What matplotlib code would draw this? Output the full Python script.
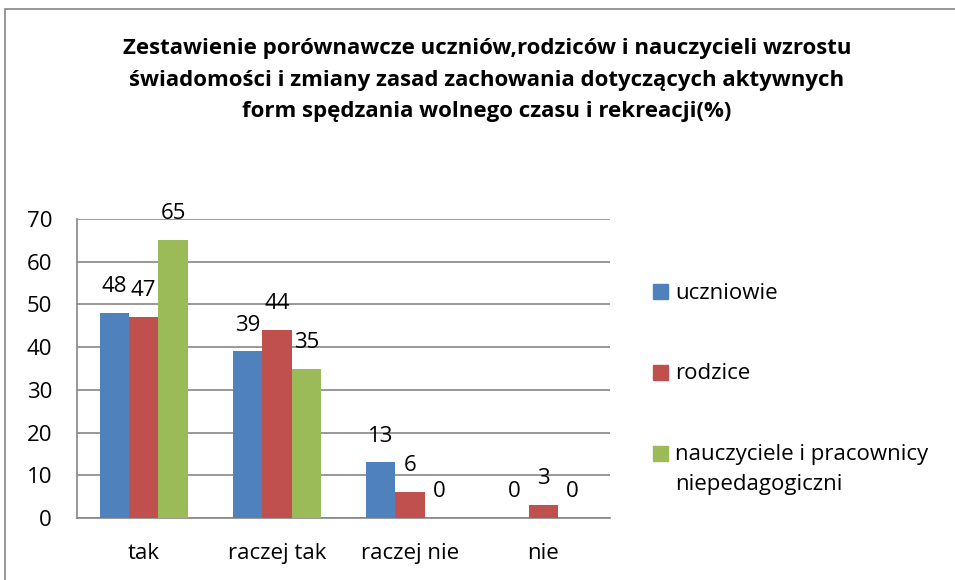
import numpy as np
import matplotlib
matplotlib.use('Agg')
import matplotlib.pyplot as plt
from matplotlib.patches import Rectangle

categories = ['tak', 'raczej tak', 'raczej nie', 'nie']
series_names = ['uczniowie', 'rodzice', 'nauczyciele i pracownicy\nniepedagogiczni']
uczniowie = [48, 39, 13, 0]
rodzice = [47, 44, 6, 3]
nauczyciele = [65, 35, 0, 0]
yticks = [0, 10, 20, 30, 40, 50, 60, 70]
title = ('Zestawienie porównawcze uczniów,rodziców i nauczycieli wzrostu\n'
         'świadomości i zmiany zasad zachowania dotyczących aktywnych\n'
         'form spędzania wolnego czasu i rekreacji(%)')

colors = ['#4F81BD', '#C0504D', '#9BBB59']
plt.rcParams['font.family'] = ['Open Sans', 'DejaVu Sans']
fs = 16

fig = plt.figure(figsize=(9.55, 5.8), dpi=100)
# chart border (Excel-like frame, running off the right/bottom edge)
fig.patches.append(Rectangle((5 / 955, -0.1), 1.2, 1 - 9 / 580 + 0.1,
                             transform=fig.transFigure, fill=False,
                             edgecolor='#868686', linewidth=1.2))

ax = fig.add_axes([77 / 955, 1 - 518 / 580, 533 / 955, 299 / 580])
x = np.arange(len(categories))
w = 0.22
for k, vals in enumerate([uczniowie, rodzice, nauczyciele]):
    pos = x + (k - 1) * w
    ax.bar(pos, vals, w, color=colors[k], label=series_names[k], zorder=3)
    for px, v in zip(pos, vals):
        ax.annotate(str(v), xy=(px, v), xytext=(0, 19), textcoords='offset points',
                    ha='center', va='center', fontsize=fs, color='black',
                    annotation_clip=False)

ax.set_xlim(-0.5, 3.5)
ax.set_ylim(0, 70)
ax.set_yticks(yticks)
ax.set_xticks(x)
ax.set_xticklabels(categories)
ax.tick_params(axis='y', length=0, pad=18, labelsize=fs)
ax.tick_params(axis='x', length=0, pad=18, labelsize=fs)
ax.yaxis.grid(True, color='#868686', linewidth=1.2, zorder=0)
for s in ['top', 'right']:
    ax.spines[s].set_visible(False)
for s in ['left', 'bottom']:
    ax.spines[s].set_color('#868686')
    ax.spines[s].set_linewidth(1.2)

fig.text(487 / 955, 1 - 80 / 580, title, ha='center', va='center',
         fontsize=16, fontweight='bold', linespacing=1.65)

# legend, drawn by hand so the square lines up with the first text line
leg_y = [292, 372, 453]
for name, c, yy in zip(series_names, colors, leg_y):
    fig.patches.append(Rectangle((653 / 955, 1 - (yy + 7.5) / 580), 15 / 955, 15 / 580,
                                 transform=fig.transFigure, color=c))
    fig.text(675 / 955, 1 - (yy - 9) / 580, name, ha='left', va='top',
             fontsize=fs, linespacing=1.55)

fig.savefig('out.png', dpi=100)
